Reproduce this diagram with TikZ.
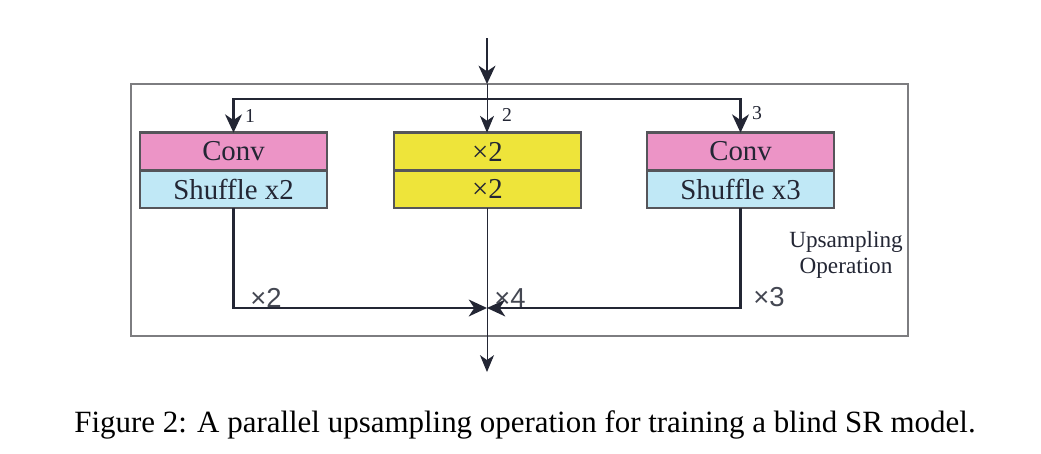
\documentclass[tikz,border=0pt]{standalone}
\usepackage{fontspec}
\setmainfont{Liberation Serif}
\newfontfamily\labelfont{Liberation Sans}
\usetikzlibrary{positioning, arrows.meta}
\definecolor{pinkc}{RGB}{236,148,198}
\definecolor{bluec}{RGB}{192,232,246}
\definecolor{yellowc}{RGB}{238,228,58}
\definecolor{edgec}{RGB}{85,85,90}
\definecolor{framec}{RGB}{125,125,128}
\definecolor{ink}{RGB}{35,38,52}
\tikzstyle{block}=[rectangle, draw=edgec, line width=1.8pt, outer sep=0pt, minimum width=4.675cm, minimum height=0.94cm, text=ink, font=\fontsize{20.5}{24}\selectfont, inner sep=0pt]
\tikzstyle{conv}=[block, fill=pinkc]
\tikzstyle{shuf}=[block, fill=bluec]
\tikzstyle{mult}=[block, fill=yellowc]
\tikzstyle{flow}=[draw=ink, line width=1.6pt, -{Stealth[length=13pt, width=12pt, inset=4pt]}]
\tikzstyle{thinflow}=[draw=ink, line width=0.7pt, -{Stealth[length=12pt, width=10pt, inset=3.5pt]}]
\tikzstyle{num}=[text=ink, font=\fontsize{14}{16}\selectfont, inner sep=0pt]
\tikzstyle{factorlabel}=[text=ink!85, font=\labelfont\fontsize{19.5}{22}\selectfont, inner sep=0pt]

\begin{document}
\begin{tikzpicture}[x=0.025cm, y=-0.025cm]
            \useasboundingbox (0,0) rectangle (1041,454);
            %outer frame of the upsampling operation
            \node[rectangle, draw=framec, line width=1.6pt, minimum width=19.425cm, minimum height=6.3cm, outer sep=0pt](frame) at (519.5,210){};
            \node[text=ink, align=center, font=\fontsize{16.5}{19}\selectfont](op) at (846,255){Upsampling\\Operation};
            %three parallel branches
            \node[conv](conv1) at (233.5,151.5){Conv};
            \node[shuf, below = 0pt of conv1](shuf1){Shuffle x2};
            \node[mult](conv2) at (487.5,151.5){×2};
            \node[mult, below = 0pt of conv2](shuf2){×2};
            \node[conv](conv3) at (740.5,151.5){Conv};
            \node[shuf, below = 0pt of conv3](shuf3){Shuffle x3};
            %input and split
            \coordinate (in) at (487,38);
            \coordinate (top) at (in |- frame.north);
            \coordinate (split) at (487,99);
            \draw[flow] (in) -- (top);
            \draw[thinflow] (top) -- (conv2.north -| top);
            \draw[flow] (split) -| (conv1.north);
            \draw[flow] (split) -| (conv3.north);
            \node[num](n1) at (250,116){1};
            \node[num](n2) at (507,115){2};
            \node[num](n3) at (757,113){3};
            %merge and output
            \coordinate (merge) at (487,308);
            \coordinate (out) at (487,372);
            \draw[flow] (shuf1.south) |- (merge);
            \draw[flow] (shuf3.south) |- (merge);
            \draw[thinflow] (shuf2.south -| top) -- (out);
            \node[factorlabel](x2) at (266,298){×2};
            \node[factorlabel](x4) at (510,298){×4};
            \node[factorlabel](x3) at (769,297){×3};
            %caption
            \node[font=\fontsize{22}{26}\selectfont](cap) at (525,425){Figure 2: A parallel upsampling operation for training a blind SR model.};
        \end{tikzpicture}
\end{document}
